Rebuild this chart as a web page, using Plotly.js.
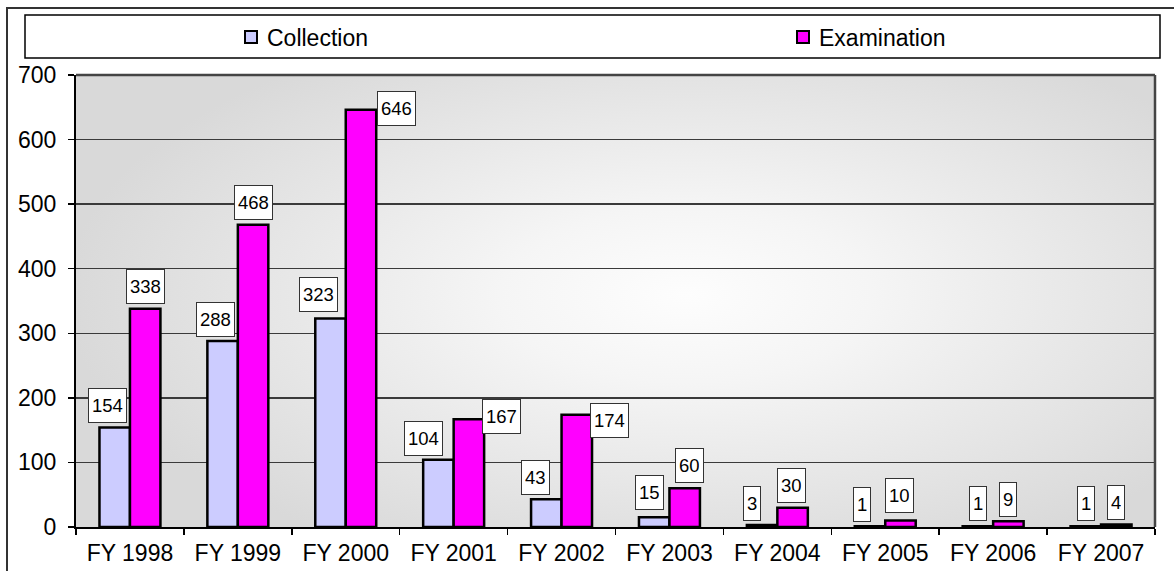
<!DOCTYPE html>
<html>
<head>
<meta charset="utf-8">
<script src="https://cdn.plot.ly/plotly-3.0.1.min.js"></script>
<style>html,body{margin:0;padding:0;background:#fff;}#chart{width:1174px;height:571px;}</style>
</head>
<body>
<div id="chart"></div>
<script>
// ---- data ----
const categories = ['FY 1998','FY 1999','FY 2000','FY 2001','FY 2002','FY 2003','FY 2004','FY 2005','FY 2006','FY 2007'];
const collection = [154, 288, 323, 104, 43, 15, 3, 1, 1, 1];
const examination = [338, 468, 646, 167, 174, 60, 30, 10, 9, 4];
const yTicks = [0, 100, 200, 300, 400, 500, 600, 700];
const seriesNames = ['Collection', 'Examination'];
const seriesColors = ['#ccccff', '#ff00ff'];

// ---- label placement (style only) ----
const colLabelDx  = [-7.5, -7, -12, -15, -11, -5, -10.5, -8.5, 0, 0];
const colLabelGap = [5, 4, 6, 4, 4, 7, 4, 4, 5, 5];
const exLabelMode = ['top','top','right','right','right','top','top','top','top','top'];
const exLabelDx   = [0, 0, 1, -2, -2, 5, -1, -1, 0, 0];
const exLabelDy   = [5, 5, 1.5, 2.5, -6, 5, 5, 8, 4, 4];

// ---- geometry ----
const W = 1174, H = 571;
const M = {l: 76, r: 19, t: 75, b: 44};
const PW = W - M.l - M.r, PH = H - M.t - M.b;
const bargap = 0.435;
const barHalf = (1 - bargap) / 4;          // half bar width in category units
const barHalfPx = barHalf * PW / categories.length;
const px2x = p => (p - M.l) / PW;
const px2y = p => (H - M.b - p) / PH;

function makeBg(w, h) {
  const c = document.createElement('canvas');
  c.width = w; c.height = h;
  const g = c.getContext('2d');
  g.fillStyle = '#d9d9d9';
  g.fillRect(0, 0, w, h);
  const cx = 610, cy = 220, rx = 620, ry = 290;
  g.save();
  g.translate(cx, cy);
  g.scale(rx / ry, 1);
  const grad = g.createRadialGradient(0, 0, 0, 0, 0, ry);
  grad.addColorStop(0, '#fdfdfd');
  grad.addColorStop(0.3, '#f5f5f5');
  grad.addColorStop(1, '#d9d9d9');
  g.fillStyle = grad;
  g.fillRect(-3 * w, -3 * h, 6 * w, 6 * h);
  g.restore();
  return c.toDataURL('image/png');
}

const FONT = 'Liberation Sans, Arial, sans-serif';

const traces = [
  {type: 'bar', name: seriesNames[0], x: categories, y: collection,
   marker: {color: seriesColors[0], line: {color: '#000', width: 2.5}}, hoverinfo: 'skip'},
  {type: 'bar', name: seriesNames[1], x: categories, y: examination,
   marker: {color: seriesColors[1], line: {color: '#000', width: 2.5}}, hoverinfo: 'skip'}
];

const annotations = [];
const labelBase = {
  showarrow: false, xref: 'x', yref: 'y',
  font: {family: FONT, size: 18.5, color: '#000'},
  bgcolor: '#fff', bordercolor: '#333', borderwidth: 1, borderpad: 3, height: 27
};
categories.forEach((c, i) => {
  annotations.push(Object.assign({}, labelBase, {
    x: i - barHalf, y: collection[i], text: String(collection[i]),
    xanchor: 'center', yanchor: 'bottom',
    xshift: colLabelDx[i], yshift: colLabelGap[i]
  }));
  if (exLabelMode[i] === 'right') {
    annotations.push(Object.assign({}, labelBase, {
      x: i + barHalf, y: examination[i], text: String(examination[i]),
      xanchor: 'left', yanchor: 'middle',
      xshift: barHalfPx + exLabelDx[i], yshift: exLabelDy[i]
    }));
  } else {
    annotations.push(Object.assign({}, labelBase, {
      x: i + barHalf, y: examination[i], text: String(examination[i]),
      xanchor: 'center', yanchor: 'bottom',
      xshift: exLabelDx[i], yshift: exLabelDy[i]
    }));
  }
});

// manual legend (marker squares + text)
const legendMarkerX = [245, 797];
const legendTextX = [265, 817];
const legendShapes = [];
seriesNames.forEach((n, k) => {
  legendShapes.push({type: 'rect', xref: 'paper', yref: 'paper',
    x0: px2x(legendMarkerX[k]), x1: px2x(legendMarkerX[k] + 12),
    y0: px2y(43), y1: px2y(31),
    line: {color: '#000', width: 2}, fillcolor: seriesColors[k]});
  annotations.push({showarrow: false, xref: 'paper', yref: 'paper',
    x: px2x(legendTextX[k]), y: px2y(37.5), xanchor: 'left', yanchor: 'middle',
    text: n, font: {family: FONT, size: 23, color: '#000'}});
});

const layout = {
  width: W, height: H,
  margin: M,
  paper_bgcolor: '#fff',
  plot_bgcolor: 'rgba(0,0,0,0)',
  font: {family: FONT, size: 23, color: '#000'},
  barmode: 'group', bargap: bargap, bargroupgap: 0,
  showlegend: false,
  xaxis: {
    type: 'category', tickson: 'boundaries', ticks: 'outside', ticklen: 6, tickwidth: 1.5,
    tickcolor: '#000', showline: true, linecolor: '#000', linewidth: 2,
    mirror: false, showgrid: false, zeroline: false, fixedrange: true,
    ticklabelstandoff: 4,
    tickfont: {family: FONT, size: 23, color: '#000'}
  },
  yaxis: {
    range: [0, 700], tickvals: yTicks, ticktext: yTicks.map(String),
    ticks: 'outside', ticklen: 6, tickwidth: 1.5, tickcolor: '#000',
    showline: true, linecolor: '#000', linewidth: 2,
    showgrid: true, gridcolor: '#3a3a3a', gridwidth: 1.3, zeroline: false, fixedrange: true,
    ticklabelstandoff: 7,
    tickfont: {family: FONT, size: 23, color: '#000'}
  },
  images: [{
    source: makeBg(PW, PH), xref: 'paper', yref: 'paper',
    x: 0, y: 1, sizex: 1, sizey: 1, xanchor: 'left', yanchor: 'top',
    sizing: 'stretch', layer: 'below'
  }],
  shapes: [
    // plot frame top/right
    {type: 'line', xref: 'paper', yref: 'paper', x0: 0, x1: 1, y0: 1, y1: 1, line: {color: '#444', width: 2.5}},
    {type: 'line', xref: 'paper', yref: 'paper', x0: 1, x1: 1, y0: 0, y1: 1, line: {color: '#444', width: 2.5}},
    // legend box
    {type: 'rect', xref: 'paper', yref: 'paper', x0: px2x(25), x1: px2x(1160), y0: px2y(58), y1: px2y(15),
     line: {color: '#000', width: 1.5}, fillcolor: 'rgba(0,0,0,0)'},
    // outer chart frame
    {type: 'rect', xref: 'paper', yref: 'paper', x0: px2x(7), x1: px2x(1190), y0: px2y(590), y1: px2y(8),
     line: {color: '#333', width: 2}, fillcolor: 'rgba(0,0,0,0)'}
  ].concat(legendShapes),
  annotations: annotations
};

Plotly.newPlot('chart', traces, layout, {staticPlot: true, displayModeBar: false});
</script>
</body>
</html>
